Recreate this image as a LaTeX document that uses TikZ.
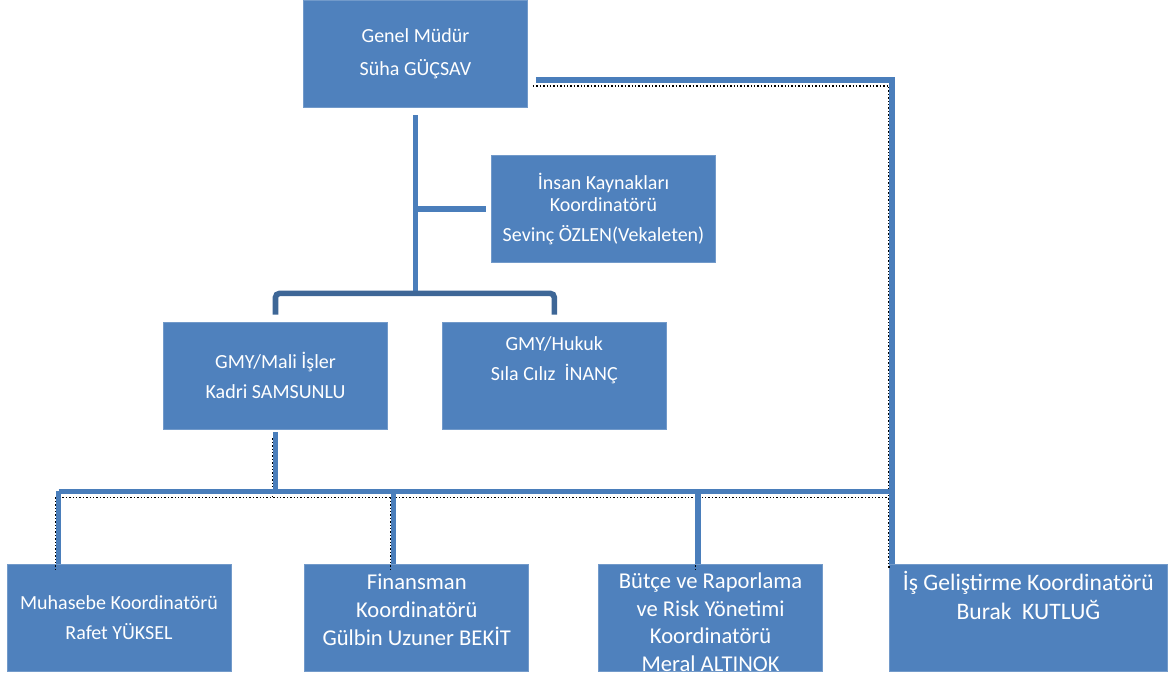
\documentclass[tikz,border=0pt]{standalone}
\usepackage{fontspec}
\setmainfont{Carlito}
\usepackage{xcolor}
\definecolor{cBox}{HTML}{4F81BD}
\definecolor{cLine}{HTML}{4A7EBB}
\definecolor{cLineDark}{HTML}{3E6797}
\usetikzlibrary{positioning}
\tikzset{
  node-box/.style={fill=cBox,draw=cBox!80!white,line width=0.4pt,
    minimum width=112pt,minimum height=53.5pt,inner sep=0pt,align=center,
    text=white,font=\fontsize{10}{13.5}\selectfont},
  node-wide/.style={minimum width=139pt},
  node-txt/.style={align=center,text=white,inner sep=0pt,
    font=\fontsize{10}{13.5}\selectfont},
  node-big/.style={font=\fontsize{11.3}{13.75}\selectfont},
  node-bigger/.style={font=\fontsize{11.8}{14.75}\selectfont},
  line-tree/.style={draw=cLine,line width=2.8pt},
  line-bracket/.style={draw=cLineDark,line width=2.8pt,rounded corners=2pt},
  % dotted black trace next to the lower connectors
  line-ghost/.style={draw=black,densely dotted,line width=0.7pt,
    transform canvas={shift={(-1.5pt,-3pt)}}},
}

\begin{document}
\begin{tikzpicture}[x=0.5pt,y=-0.5pt]
  \useasboundingbox (0,0) rectangle (1168,676);
  % top
  \node[node-box] (gm) at (415.5,53.5) {Genel Müdür\\[3pt]Süha GÜÇSAV};
  \node[node-box] (ik) at (603.5,209) {İnsan Kaynakları\\[-2.5pt]Koordinatörü\\[1.5pt]Sevinç ÖZLEN(Vekaleten)};
  % GMY row
  \node[node-box] (mali) at (275.5,375.5) {GMY/Mali İşler\\[1.5pt]Kadri SAMSUNLU};
  \node[node-box,right=27pt of mali] (hukuk) {};
  \node[node-txt] (hukuk-t) at ([yshift=7.75pt]hukuk.center) {GMY/Hukuk\\[1.5pt]Sıla Cılız\ \ İNANÇ};
  % coordinators
  \node[node-box] (muh) at (119,617.5) {Muhasebe Koordinatörü\\[1.5pt]Rafet YÜKSEL};
  \node[node-box,right=36.5pt of muh] (fin) {};
  \node[node-txt,node-big] (fin-t) at ([yshift=3.75pt]fin.center) {Finansman\\[0.25pt]Koordinatörü\\[0.25pt]Gülbin Uzuner BEKİT};
  \node[node-box,right=34.5pt of fin] (butce) {};
  \node[node-txt,node-big] (butce-t) at ([yshift=-2.25pt]butce.center) {Bütçe ve Raporlama\\ve Risk Yönetimi\\Koordinatörü\\Meral ALTINOK};
  \node[node-box,node-wide,right=33pt of butce] (is) {};
  \node[node-txt,node-bigger] (is-t) at ([yshift=11pt]is.center) {İş Geliştirme Koordinatörü\\Burak\ \ KUTLUĞ};

  % upper tree
  \path (gm.south) ++(0,186) coordinate (split);
  \draw[line-tree] ([yshift=-4pt]gm.south) -- (split);
  \draw[line-tree] (gm.south |- ik.west) -- ([xshift=-2.5pt]ik.west);
  \draw[line-bracket] ([yshift=3.5pt]mali.north) |- (split) -| ([yshift=3.5pt]hukuk.north);

  % lower tree
  \path (mali.south) ++(0,62) coordinate (bus);
  \coordinate (d-muh) at ([xshift=26pt]muh.north west);
  \coordinate (d-fin) at ([xshift=44.5pt]fin.north west);
  \coordinate (d-butce) at ([xshift=50pt]butce.north west);
  \coordinate (d-is) at ([xshift=1.5pt]is.north west);
  \foreach \sty in {line-ghost,line-tree} {
    \draw[\sty] ([yshift=-1.5pt]mali.south) -- (mali.south |- bus);
    \draw[\sty] (d-muh |- bus) -- (d-is |- bus);
    \foreach \d in {d-muh,d-fin,d-butce}
      \draw[\sty] (\d |- bus) -- (\d);
    \draw[\sty] ([shift={(4pt,-13.25pt)}]gm.east) -| (d-is);
  }
\end{tikzpicture}
\end{document}
